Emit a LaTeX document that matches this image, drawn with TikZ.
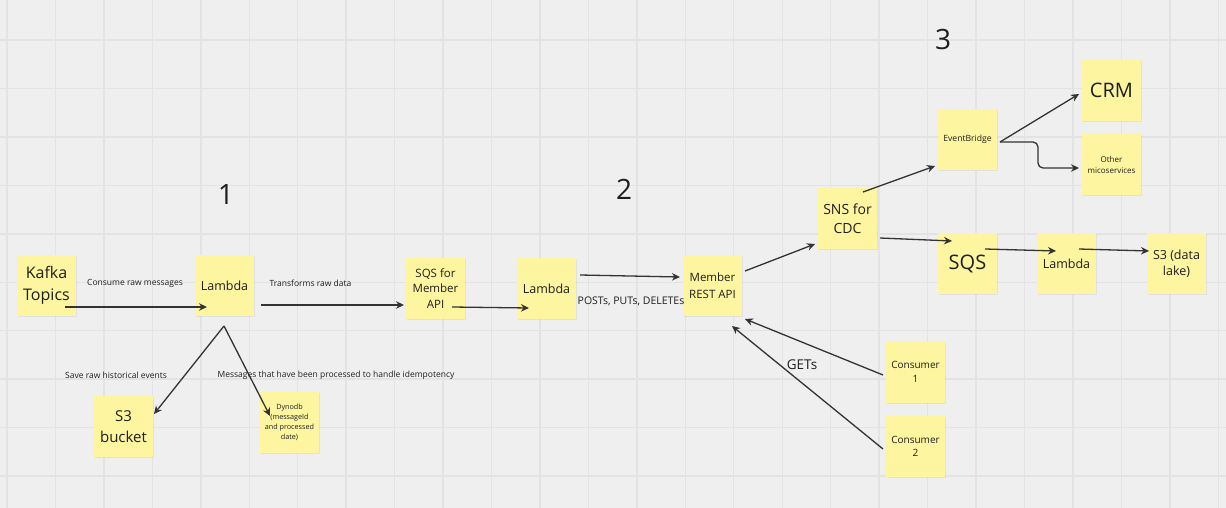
\documentclass[tikz,border=0pt]{standalone}
\usepackage{fontspec}
\setmainfont{Open Sans}
\usetikzlibrary{arrows.meta,shadows}
\definecolor{bg}{HTML}{EFEFEF}
\definecolor{gridc}{HTML}{E3E3E3}
\definecolor{notey}{HTML}{FEF5A0}
\definecolor{ink}{HTML}{1E1E1E}
\definecolor{arrc}{HTML}{333333}
\newcommand{\fsz}[2]{\fontsize{#1}{#2}\selectfont}
\begin{document}
\begin{tikzpicture}[x=1pt,y=-1pt,
  sticky/.style={fill=notey, minimum width=59pt, minimum height=61pt, inner sep=1pt, align=center, text=ink,
    drop shadow={opacity=0.12, shadow xshift=0.6pt, shadow yshift=-1.2pt}},
  lbl/.style={text=ink, inner sep=0pt, font=\fsz{8.5}{10}},
  conn/.style={draw=arrc, line width=1.3pt, -{Stealth[length=8pt,width=7.5pt]}},
  digit/.style={text=ink, font=\fsz{28}{30}, inner sep=0pt}]
\useasboundingbox (0,0) rectangle (1226,508);
\fill[bg] (0,0) rectangle (1226,508);
\begin{scope}
\clip (0,0) rectangle (1226,508);
\foreach \i in {0,...,25} \draw[gridc, line width=1.4pt] ({7+48.45*\i},0) -- ({7+48.45*\i},508);
\foreach \j in {0,...,9} \draw[gridc, line width=1.4pt] (0,{40+48.45*\j}) -- (1226,{40+48.45*\j});
\end{scope}

% section numbers
\node[digit] (n1) at (226,195) {1};
\node[digit] (n2) at (624,189) {2};
\node[digit] (n3) at (943,40) {3};

% sticky notes
\node[sticky, font=\fsz{16}{21.5}] (kafka) at (46.5,285.5) {Kafka\\Topics};
\node[sticky, font=\fsz{12.5}{16}] (lam1) at (224.5,285.5) {Lambda};
\node[sticky, font=\fsz{11.5}{15.5}] (sqs1) at (435.5,288.5) {SQS for\\Member\\API};
\node[sticky, font=\fsz{15}{21}] (s3b) at (123.5,426.5) {S3\\bucket};
\node[sticky, font=\fsz{7.2}{10}] (dyn) at (289.5,422) {Dynodb\\(messageId\\and processed\\date)};
\node[sticky, font=\fsz{12.5}{16}] (lam2) at (546.5,288.5) {Lambda};
\node[sticky, font=\fsz{11.5}{16.5}] (member) at (712.5,285.5) {Member\\REST API};
\node[sticky, font=\fsz{14}{19.5}] (sns) at (847.5,218.5) {SNS for\\CDC};
\node[sticky, font=\fsz{8.6}{11}] (eb) at (967.5,139.5) {EventBridge};
\node[sticky, font=\fsz{20}{24}] (crm) at (1111.5,90.5) {CRM};
\node[sticky, font=\fsz{8}{11}] (other) at (1111.5,164.5) {Other\\micoservices};
\node[sticky, font=\fsz{20}{24}] (sqs2) at (967.5,263.5) {SQS};
\node[sticky, font=\fsz{12.5}{16}] (lam3) at (1066.5,263.5) {Lambda};
\node[sticky, font=\fsz{12.5}{16.5}] (s3dl) at (1176.5,263.5) {S3 (data\\lake)};
\node[sticky, font=\fsz{10}{13.7}] (c1) at (915.5,372) {Consumer\\1};
\node[sticky, font=\fsz{10}{13.7}] (c2) at (915.5,446.5) {Consumer\\2};

% labels
\node[lbl] (lconsume) at (135,283) {Consume raw messages};
\node[lbl] (ltrans) at (310.5,283) {Transforms raw data};
\node[lbl] (lsave) at (116,375.5) {Save raw historical events};
\node[lbl] (lmsg) at (336,375.5) {Messages that have been processed to handle idempotency};
\node[lbl, font=\fsz{10.5}{12}] (lposts) at (631,301.5) {POSTs, PUTs, DELETEs};
\node[lbl, font=\fsz{13.5}{15}] (lgets) at (802,364.5) {GETs};

% connectors
\draw[conn] ([shift={(18.5,21.5)}]kafka.center) -- ([shift={(-17.5,21.5)}]lam1.center);
\draw[conn] ([shift={(36.5,19.5)}]lam1.center) -- ([shift={(-31.5,16.5)}]sqs1.center);
\draw[conn] ([shift={(16.5,18.5)}]sqs1.center) -- ([shift={(-17.5,19.5)}]lam2.center);
\draw[conn] ([shift={(33.5,-13.5)}]lam2.center) -- ([shift={(-32.5,-8.5)}]member.center);
\draw[conn] ([shift={(32.5,-14.5)}]member.center) -- ([shift={(-32.5,25.5)}]sns.center);
\draw[conn] ([shift={(15.5,-26.5)}]sns.center) -- ([shift={(-32.5,26.5)}]eb.center);
\draw[conn] ([shift={(32.5,19.5)}]sns.center) -- ([shift={(-15.5,-22.5)}]sqs2.center);
\draw[conn] ([shift={(17.5,-14.5)}]sqs2.center) -- ([shift={(-10.5,-12.5)}]lam3.center);
\draw[conn] ([shift={(12.5,-14.5)}]lam3.center) -- ([shift={(-27.5,-12.5)}]s3dl.center);
\draw[conn] ([shift={(32.5,2.5)}]eb.center) -- ([shift={(-32.5,3.5)}]crm.center);
\draw[conn, rounded corners=5pt] ([shift={(32.5,2.5)}]eb.center) -- ++(38,0) |- ([shift={(-32.5,3.5)}]other.center);
\draw[conn] ([shift={(-0.5,40.5)}]lam1.center) -- ([shift={(30.5,-12.5)}]s3b.center);
\draw[conn] ([shift={(-0.5,40.5)}]lam1.center) -- ([shift={(-19.5,-6)}]dyn.center);
\draw[conn] ([shift={(-32.5,3)}]c1.center) -- ([shift={(32.5,33.5)}]member.center);
\draw[conn] ([shift={(-32.5,2.5)}]c2.center) -- ([shift={(19.5,40.5)}]member.center);
\end{tikzpicture}
\end{document}
